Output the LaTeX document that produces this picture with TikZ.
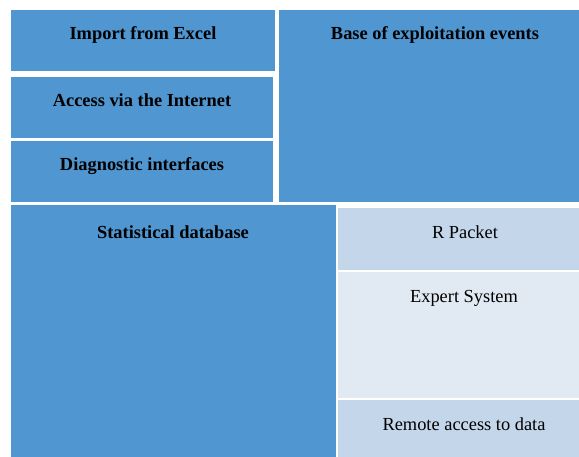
\documentclass[tikz,border=0pt]{standalone}
\usepackage{fontspec}
\setmainfont{Liberation Serif}
\definecolor{mblue}{RGB}{80,150,208}
\definecolor{lblue}{RGB}{196,215,234}
\definecolor{llblue}{RGB}{225,233,243}
\tikzset{
  blk/.style={fill=mblue, draw=none},
  lt/.style={fill=lblue, draw=none},
  llt/.style={fill=llblue, draw=none},
  bt/.style={font=\fontsize{18.4}{22}\selectfont\bfseries, anchor=base, inner sep=0pt},
  rt/.style={font=\fontsize{18.4}{22}\selectfont, anchor=base, inner sep=0pt}
}
\begin{document}
\begin{tikzpicture}[x=1pt,y=-1pt]
\useasboundingbox (0,0) rectangle (579,457);
\begin{scope}
\clip (0,0) rectangle (579,457);
\fill[blk] (11,10) rectangle (275,71);
\fill[blk] (11,77) rectangle (273,138);
\fill[blk] (11,141) rectangle (273,202);
\fill[blk] (279,10) rectangle (590,202);
\fill[blk] (11,205) rectangle (336,460);
\fill[lt] (338,208) rectangle (579,270);
\fill[llt] (338,272) rectangle (579,398);
\fill[lt] (338,400) rectangle (579,460);
\end{scope}
\node[bt] (imp) at (143,40) {Import from Excel};
\node[bt] (acc) at (142,107) {Access via the Internet};
\node[bt] (dia) at (142,171) {Diagnostic interfaces};
\node[bt] (base) at (435,40) {Base of exploitation events};
\node[bt] (stat) at (173,239) {Statistical database};
\node[rt] (rp) at (465,239) {R Packet};
\node[rt] (exp) at (464,303) {Expert System};
\node[rt] (rem) at (464,430) {Remote access to data};
\end{tikzpicture}
\end{document}
